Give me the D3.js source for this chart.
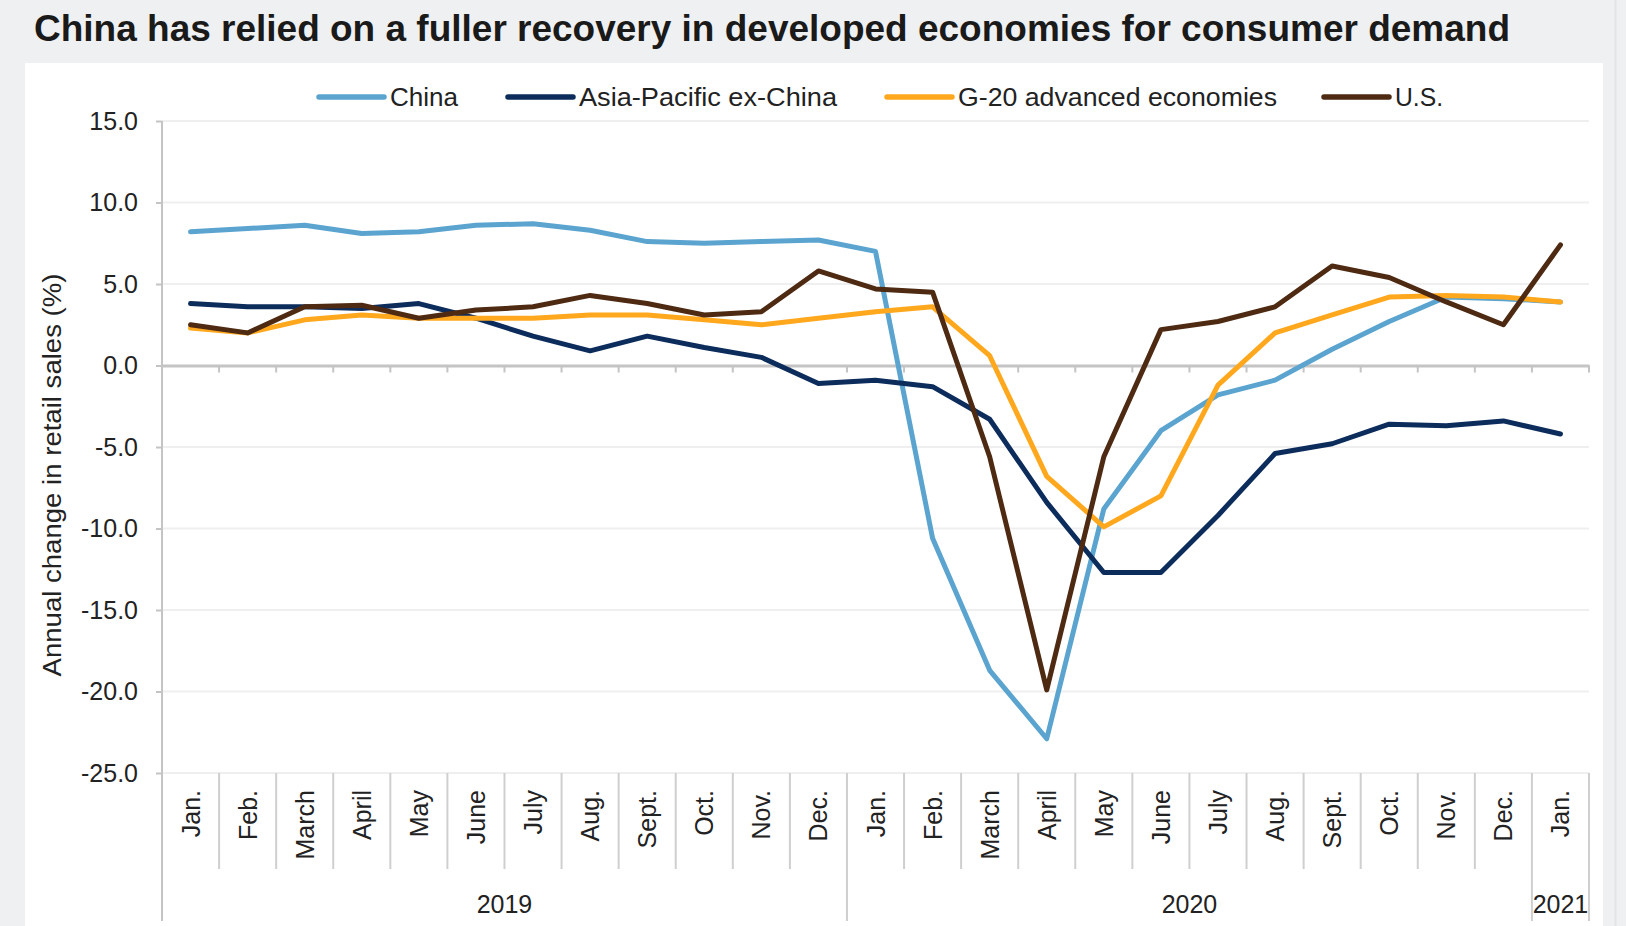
<!DOCTYPE html>
<html>

<head>
    <meta charset="utf-8">
    <title>China retail sales</title>
    <script src="https://d3js.org/d3.v7.min.js"></script>
    <style>
        body {
            margin: 0;
            padding: 0;
            overflow: hidden;
            background: #eef0f2;
        }

        text {
            font-family: "Liberation Sans", Arial, sans-serif;
            fill: #222;
        }
    </style>
</head>

<body>
    <script>
        var width = 1626,
            height = 926;

        // data
        var months = ["Jan.", "Feb.", "March", "April", "May", "June", "July", "Aug.", "Sept.", "Oct.", "Nov.", "Dec.",
            "Jan.", "Feb.", "March", "April", "May", "June", "July", "Aug.", "Sept.", "Oct.", "Nov.", "Dec.", "Jan."];
        var years = [{ label: "2019", from: 0, to: 12 }, { label: "2020", from: 12, to: 24 }, { label: "2021", from: 24, to: 25 }];
        var yTicks = [15, 10, 5, 0, -5, -10, -15, -20, -25];

        var china = [8.2, 8.4, 8.6, 8.1, 8.2, 8.6, 8.7, 8.3, 7.6, 7.5, 7.6, 7.7,
            7.0, -10.6, -18.7, -22.9, -8.8, -4.0, -1.8, -0.9, 1.0, 2.7, 4.2, 4.1, 3.9];
        var asiaPac = [3.8, 3.6, 3.6, 3.5, 3.8, 2.9, 1.8, 0.9, 1.8, 1.1, 0.5, -1.1,
            -0.9, -1.3, -3.3, -8.4, -12.7, -12.7, -9.2, -5.4, -4.8, -3.6, -3.7, -3.4, -4.2];
        var g20 = [2.3, 2.0, 2.8, 3.1, 2.9, 2.9, 2.9, 3.1, 3.1, 2.8, 2.5, 2.9,
            3.3, 3.6, 0.6, -6.8, -9.9, -8.0, -1.2, 2.0, 3.1, 4.2, 4.3, 4.2, 3.9];
        var us = [2.5, 2.0, 3.6, 3.7, 2.9, 3.4, 3.6, 4.3, 3.8, 3.1, 3.3, 5.8,
            4.7, 4.5, -5.6, -19.9, -5.6, 2.2, 2.7, 3.6, 6.1, 5.4, 3.9, 2.5, 7.4];

        var series = [
            { name: "China", values: china, color: "#5aa4cf", lx: 319, tw: 68 },
            { name: "Asia-Pacific ex-China", values: asiaPac, color: "#0c2c5c", lx: 508, tw: 258 },
            { name: "G-20 advanced economies", values: g20, color: "#ffa81e", lx: 887, tw: 319 },
            { name: "U.S.", values: us, color: "#4e2a12", lx: 1324, tw: 48 }
        ];

        var margin = { left: 162, right: 1589, top: 121, bottom: 773 };

        var svg = d3.select("body").append("svg")
            .attr("width", width)
            .attr("height", height);

        svg.append("rect").attr("width", width).attr("height", height).attr("fill", "#eef0f2");
        svg.append("rect")
            .attr("x", 25).attr("y", 63)
            .attr("width", 1603 - 25).attr("height", height - 63)
            .attr("fill", "#fff");
        svg.append("line")
            .attr("x1", 1615.5).attr("x2", 1615.5).attr("y1", 0).attr("y2", height)
            .attr("stroke", "#e2e4e6").attr("stroke-width", 2);

        svg.append("text")
            .attr("x", 34).attr("y", 41)
            .attr("textLength", 1476).attr("lengthAdjust", "spacingAndGlyphs")
            .style("font-size", "36px").style("font-weight", "bold").style("fill", "#1a1a1a")
            .text("China has relied on a fuller recovery in developed economies for consumer demand");

        var x = d3.scaleBand().domain(d3.range(months.length)).range([margin.left, margin.right]);
        var y = d3.scaleLinear().domain([-25, 15]).range([margin.bottom, margin.top]);

        // gridlines
        svg.append("g").selectAll("line").data(yTicks.filter(d => d !== 0)).join("line")
            .attr("x1", margin.left).attr("x2", margin.right)
            .attr("y1", d => y(d)).attr("y2", d => y(d))
            .attr("stroke", "#efefef").attr("stroke-width", 2);

        // y axis
        var yAxis = svg.append("g")
            .attr("transform", "translate(" + margin.left + ",0)")
            .call(d3.axisLeft(y).tickValues(yTicks).tickFormat(d => d.toFixed(1)).tickSize(6).tickPadding(18));
        yAxis.select(".domain").attr("stroke", "#c4c4c4").attr("stroke-width", 2)
            .attr("d", "M0," + margin.top + "V" + 921);
        yAxis.selectAll(".tick line").attr("stroke", "#c4c4c4").attr("stroke-width", 2);
        yAxis.selectAll(".tick text").style("font-size", "25px").attr("fill", "#222");

        svg.append("text")
            .attr("transform", "translate(61,475) rotate(-90)")
            .attr("text-anchor", "middle")
            .attr("textLength", 403).attr("lengthAdjust", "spacingAndGlyphs")
            .style("font-size", "25px")
            .text("Annual change in retail sales (%)");

        // zero line with ticks
        var zero = svg.append("g").attr("transform", "translate(0," + y(0) + ")")
            .call(d3.axisBottom(x).tickValues([]).tickSizeOuter(0));
        zero.select(".domain").attr("stroke", "#c4c4c4").attr("stroke-width", 3);
        zero.selectAll("line.sep").data(d3.range(1, months.length + 1)).join("line")
            .attr("class", "sep")
            .attr("x1", i => x(i - 1) + x.bandwidth()).attr("x2", i => x(i - 1) + x.bandwidth())
            .attr("y1", 0).attr("y2", 7)
            .attr("stroke", "#c4c4c4").attr("stroke-width", 2);

        // category labels at the bottom
        var cat = svg.append("g");
        cat.selectAll("line").data(d3.range(1, months.length)).join("line")
            .attr("x1", i => x(i)).attr("x2", i => x(i))
            .attr("y1", margin.bottom).attr("y2", i => (i === 12 || i === 24) ? 921 : 869)
            .attr("stroke", "#cfcfcf").attr("stroke-width", 2);
        cat.append("line")
            .attr("x1", margin.right).attr("x2", margin.right)
            .attr("y1", margin.bottom).attr("y2", 921)
            .attr("stroke", "#cfcfcf").attr("stroke-width", 2);
        cat.selectAll("text.m").data(months).join("text")
            .attr("class", "m")
            .attr("transform", (d, i) => "translate(" + (x(i) + x.bandwidth() / 2 + 9) + ",790) rotate(-90)")
            .attr("text-anchor", "end")
            .style("font-size", "25px")
            .text(d => d);
        cat.selectAll("text.y").data(years).join("text")
            .attr("class", "y")
            .attr("x", d => (x(d.from) + x(d.to - 1) + x.bandwidth()) / 2)
            .attr("y", 913)
            .attr("text-anchor", "middle")
            .style("font-size", "25px")
            .text(d => d.label);

        // lines
        var line = d3.line()
            .x((d, i) => x(i) + x.bandwidth() / 2)
            .y(d => y(d));
        svg.append("g").selectAll("path").data(series).join("path")
            .attr("d", d => line(d.values))
            .attr("fill", "none")
            .attr("stroke", d => d.color)
            .attr("stroke-width", 5)
            .attr("stroke-linejoin", "round")
            .attr("stroke-linecap", "round");

        // legend
        var lg = svg.append("g").selectAll("g").data(series).join("g")
            .attr("transform", d => "translate(" + d.lx + ",97)");
        lg.append("line")
            .attr("x1", 0).attr("x2", 65)
            .attr("stroke", d => d.color).attr("stroke-width", 5.5).attr("stroke-linecap", "round");
        lg.append("text")
            .attr("x", 71).attr("y", 9)
            .attr("textLength", d => d.tw).attr("lengthAdjust", "spacingAndGlyphs")
            .style("font-size", "25px")
            .text(d => d.name);
    </script>
</body>

</html>
